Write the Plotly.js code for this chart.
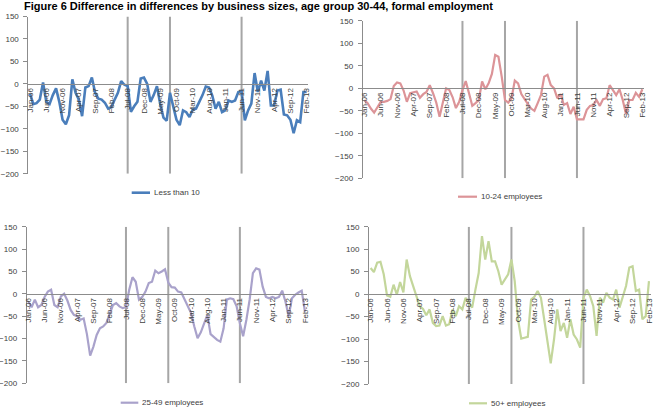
<!DOCTYPE html>
<html>
<head>
<meta charset="utf-8">
<script src="https://cdn.plot.ly/plotly-3.0.1.min.js"></script>
<style>
  html, body { margin: 0; padding: 0; background: #ffffff; }
  #chart { width: 655px; height: 413px; }
</style>
</head>
<body>
<div id="chart"></div>
<script>
// ---------- DATA ----------
const monthAbbr = ['Jan','Feb','Mar','Apr','May','Jun','Jul','Aug','Sep','Oct','Nov','Dec'];
const months = [];
for (let y = 6; y <= 13; y++) {
  for (let m = 0; m < 12; m++) {
    if (y === 13 && m > 1) break;
    months.push(monthAbbr[m] + '-' + (y < 10 ? '0' + y : '' + y));
  }
}
const tickLabels = ['Jan-06','Jun-06','Nov-06','Apr-07','Sep-07','Feb-08','Jul-08','Dec-08','May-09',
  'Oct-09','Mar-10','Aug-10','Jan-11','Jun-11','Nov-11','Apr-12','Sep-12','Feb-13'];
const eventMonths = ['Jul-08','Aug-09','Jun-11'];

const seriesNames = ['Less than 10','10-24 employees','25-49 employees','50+ employees'];

const lessThan10 = [-22,-45,-43,-35,3,-40,-45,-25,-10,-40,
  -80,-90,-70,10,-20,-35,-72,-8,-5,14,
  -20,-33,-35,-42,-55,-52,-35,-20,6,-2,
  -5,-62,-50,-40,12,14,0,-40,-25,-5,
  -45,-75,-82,-20,-50,-80,-92,-59,-63,-74,
  -57,-55,-40,-25,-6,-8,-26,-55,-40,-63,
  -59,-37,-40,-37,-18,-16,-81,-59,-44,24,
  -18,7,-15,29,-48,-48,-15,-13,-68,-70,
  -80,-110,-81,-85,-18,-18];

const emp10to24 = [-26,-33,-45,-54,-42,-30,-30,-28,-24,5,
  13,11,-5,-30,-11,-9,-7,-21,-13,-8,
  7,-11,-32,-63,-30,0,-4,-20,-44,-30,
  -4,16,-11,-39,-33,-26,15,-2,11,32,
  74,70,26,-26,-32,-22,17,11,-13,-25,
  -35,-45,-50,-33,-15,26,30,7,0,-22,
  -13,-37,-33,-57,-41,-69,-69,-69,-48,-39,
  -37,-26,-39,-24,-22,7,-4,-15,-2,-26,
  -57,-26,-26,-10,-19,-2];

const emp25to49 = [-17,-30,-13,-30,-25,-7,5,9,-25,-30,
  -6,0,-15,-36,-47,-50,-58,-55,-90,-138,
  -118,-92,-77,-73,-65,-47,-25,-21,-28,-32,
  -30,9,37,27,-13,-7,5,24,27,52,
  46,50,55,25,15,14,5,3,-12,-25,
  -43,-73,-99,-86,-66,-47,-90,-97,-103,-107,
  -77,-13,-10,-12,-28,-66,-95,-58,-13,46,
  57,54,16,-7,-10,-7,-10,-7,7,-17,
  -50,-10,-2,3,7,-40];

const emp50plus = [58,49,70,72,44,-3,-6,21,-1,27,
  4,77,40,18,-6,-27,-33,-47,-34,-64,
  -71,-70,-49,-70,-67,-34,-49,-27,-34,-8,
  -20,-30,10,47,129,77,118,73,73,51,
  21,33,44,77,29,-56,-99,-97,-95,-12,
  -6,7,-8,-56,-101,-154,-101,-34,-82,-64,
  -97,-56,-90,-101,-119,-8,10,-4,-27,-93,
  -8,-19,3,-8,-12,10,-30,-6,18,59,
  62,7,10,-56,-49,29];

// ---------- LAYOUT / STYLE ----------
const W = 655, H = 413;
const seriesData = [lessThan10, emp10to24, emp25to49, emp50plus];
const colors = ['#4a7ebb', '#dc9498', '#a9a2cb', '#c3d69b'];
const widths = [2.6, 2.2, 2.2, 2.2];
// plot rectangles in px: [left, right, top, bottom]
const rects = [
  [28.4, 308.3, 16.5, 173.7],
  [362.7, 644.0, 20.8, 178.3],
  [26.7, 306.6, 226.7, 383.3],
  [369.0, 650.6, 226.7, 384.0]
];
// legend positions in px: [lineStart, lineEnd, y]
const legendPos = [
  [131.7, 150.0, 192.7],
  [458.0, 477.0, 196.7],
  [120.7, 138.3, 402.7],
  [469.0, 487.0, 403.3]
];

const tickFont = {family: 'Liberation Sans, Arial, sans-serif', size: 8, color: '#404040'};
const yMin = -200, yMax = 150;

const traces = [];
const layout = {
  width: W, height: H,
  margin: {l: 0, r: 0, t: 0, b: 0, pad: 0},
  paper_bgcolor: '#ffffff', plot_bgcolor: 'rgba(0,0,0,0)',
  showlegend: false,
  shapes: [], annotations: []
};

for (let k = 0; k < 4; k++) {
  const [l, r, t, b] = rects[k];
  const suffix = k === 0 ? '' : String(k + 1);
  const xd = [l / W, r / W];
  const yd = [(H - b) / H, (H - t) / H];
  const zeroPx = b - (0 - yMin) / (yMax - yMin) * (b - t);
  const zeroPos = (H - zeroPx) / H;

  traces.push({
    type: 'scatter', mode: 'lines',
    x: months, y: seriesData[k], name: seriesNames[k],
    xaxis: 'x' + suffix, yaxis: 'y' + suffix,
    line: {color: colors[k], width: widths[k]},
    hoverinfo: 'skip'
  });

  layout['xaxis' + suffix] = {
    domain: xd, type: 'category', range: [-0.5, months.length - 0.5],
    anchor: 'free', position: zeroPos,
    tickmode: 'array', tickvals: tickLabels, ticktext: tickLabels,
    tickangle: -90, tickfont: tickFont,
    showline: true, linecolor: '#8c8c8c', linewidth: 1,
    showgrid: false, zeroline: false, ticks: '', fixedrange: true
  };
  layout['yaxis' + suffix] = {
    domain: yd, range: [yMin, yMax], anchor: 'x' + suffix,
    tickmode: 'linear', tick0: -200, dtick: 50,
    tickfont: tickFont, ticks: 'outside', ticklen: 4, tickcolor: '#8c8c8c',
    ticklabelstandoff: 3,
    showline: true, linecolor: '#8c8c8c', linewidth: 1,
    showgrid: false, zeroline: false, fixedrange: true
  };

  eventMonths.forEach(function (m) {
    layout.shapes.push({
      type: 'line', xref: 'x' + suffix, yref: 'y' + suffix,
      x0: m, x1: m, y0: yMin, y1: yMax,
      line: {color: '#a6a6a6', width: 2}, layer: 'below'
    });
  });

  const [ls, le, ly] = legendPos[k];
  layout.shapes.push({
    type: 'line', xref: 'paper', yref: 'paper',
    x0: ls / W, x1: le / W, y0: (H - ly) / H, y1: (H - ly) / H,
    line: {color: colors[k], width: widths[k]}
  });
  layout.annotations.push({
    xref: 'paper', yref: 'paper', x: (le + 1.5) / W, y: (H - ly) / H,
    xanchor: 'left', yanchor: 'middle', showarrow: false,
    text: seriesNames[k],
    font: {family: 'Liberation Sans, Arial, sans-serif', size: 8, color: '#404040'}
  });
}

layout.annotations.push({
  xref: 'paper', yref: 'paper', x: 23 / W, y: 1 + 1 / H,
  xanchor: 'left', yanchor: 'top', showarrow: false, borderpad: 0,
  text: '<b>Figure 6 Difference in differences by business sizes, age group 30-44, formal employment</b>',
  font: {family: 'Liberation Sans, Arial, sans-serif', size: 11, color: '#000000'}
});

Plotly.newPlot('chart', traces, layout, {staticPlot: true, displayModeBar: false});
</script>
</body>
</html>
